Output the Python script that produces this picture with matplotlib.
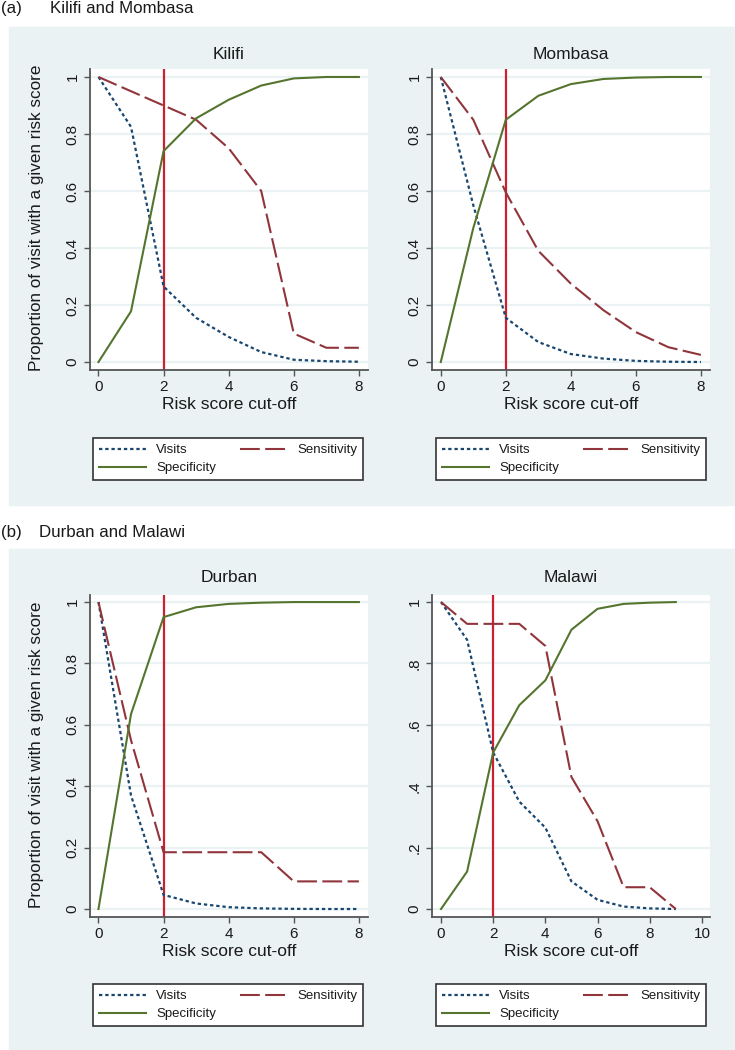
import numpy as np
import matplotlib
matplotlib.use('Agg')
import matplotlib.pyplot as plt
from matplotlib.patches import Rectangle

plt.rcParams['font.family'] = ['Liberation Sans', 'DejaVu Sans']

# risk score cut-offs
x8 = [0, 1, 2, 3, 4, 5, 6, 7, 8]
x9 = [0, 1, 2, 3, 4, 5, 6, 7, 8, 9]

# Kilifi
kil_visits = [1.0, 0.825, 0.265, 0.155, 0.088, 0.035, 0.008, 0.003, 0.001]
kil_sens = [1.0, 0.95, 0.90, 0.85, 0.75, 0.60, 0.10, 0.05, 0.05]
kil_spec = [0.0, 0.178, 0.74, 0.855, 0.92, 0.97, 0.995, 1.0, 1.0]
# Mombasa
mom_visits = [1.0, 0.55, 0.155, 0.07, 0.028, 0.012, 0.004, 0.001, 0.0]
mom_sens = [1.0, 0.85, 0.595, 0.39, 0.275, 0.182, 0.105, 0.052, 0.025]
mom_spec = [0.0, 0.47, 0.85, 0.934, 0.975, 0.993, 0.998, 1.0, 1.0]
# Durban
dur_visits = [1.0, 0.37, 0.046, 0.018, 0.006, 0.002, 0.0005, 0.0, 0.0]
dur_sens = [1.0, 0.55, 0.185, 0.185, 0.185, 0.185, 0.09, 0.09, 0.09]
dur_spec = [0.0, 0.635, 0.951, 0.983, 0.994, 0.998, 1.0, 1.0, 1.0]
# Malawi
mal_visits = [1.0, 0.877, 0.51, 0.35, 0.265, 0.09, 0.03, 0.008, 0.002, 0.0]
mal_sens = [1.0, 0.929, 0.929, 0.929, 0.857, 0.43, 0.286, 0.071, 0.071, 0.0]
mal_spec = [0.0, 0.122, 0.51, 0.664, 0.745, 0.91, 0.978, 0.994, 0.998, 1.0]

cutoff = 2
yticks = [0, 0.2, 0.4, 0.6, 0.8, 1]
ylab_std = ['0', '0.2', '0.4', '0.6', '0.8', '1']
ylab_mal = ['0', '.2', '.4', '.6', '.8', '1']

W, H = 735.0, 1050.0
bg = '#eaf2f4'
txt = '#1a1a1a'
c_vis = '#1a476f'
c_sen = '#90353b'
c_spe = '#55752f'
c_red = '#cc1f2f'


def px_axes(fig, left, top, right, bottom):
    return fig.add_axes([left / W, 1 - bottom / H, (right - left) / W, (bottom - top) / H])


def draw(fig, ax, x, visits, sens, spec, title, xlim, ylim, xticks, ylabels, legend_box, title_pad):
    ax.set_facecolor('white')
    ax.set_axisbelow(True)
    ax.yaxis.grid(True, color=bg, lw=1.6)
    ax.xaxis.grid(False)
    h1, = ax.plot(x, visits, color=c_vis, lw=1.6, ls=(0, (1.5, 1.3)))
    h2, = ax.plot(x, sens, color=c_sen, lw=1.5, ls=(0, (9.5, 2.6)))
    h3, = ax.plot(x, spec, color=c_spe, lw=1.5)
    ax.axvline(cutoff, color=c_red, lw=1.6, zorder=1.5)
    ax.set_xlim(xlim)
    ax.set_ylim(ylim)
    ax.set_xticks(xticks)
    ax.set_yticks(yticks)
    ax.set_yticklabels(ylabels, rotation=90, va='center')
    for s in ['top', 'right']:
        ax.spines[s].set_visible(False)
    for s in ['left', 'bottom']:
        ax.spines[s].set_color('#555555')
        ax.spines[s].set_linewidth(1.3)
    ax.tick_params(direction='out', length=4, width=1, color='#555555',
                   labelsize=11, labelcolor=txt)
    ax.set_title(title, fontsize=12.5, color=txt, pad=title_pad)
    ax.set_xlabel('Risk score cut-off', fontsize=12.5, color=txt, labelpad=2)
    lx0, ly0, lx1, ly1 = legend_box
    leg = ax.legend([h1, h3, h2], ['Visits', 'Specificity', 'Sensitivity'], ncol=2,
                    mode='expand', loc='upper left',
                    bbox_to_anchor=(lx0 / W, 1 - ly0 / H, (lx1 - lx0) / W, 0),
                    bbox_transform=fig.transFigure, fontsize=9.5,
                    handlelength=3.6, handletextpad=0.75, borderpad=0.45,
                    labelspacing=0.45, borderaxespad=0, fancybox=False,
                    framealpha=1, edgecolor='#333333')
    leg.get_frame().set_linewidth(1.2)
    for t in leg.get_texts():
        t.set_color(txt)


fig = plt.figure(figsize=(7.35, 10.5), dpi=100)

# panel backgrounds
fig.patches.append(Rectangle((9 / W, 1 - 505 / H), 726 / W, 478 / H,
                             transform=fig.transFigure, color=bg, zorder=-5))
fig.patches.append(Rectangle((9 / W, 0), 726 / W, 501 / H,
                             transform=fig.transFigure, color=bg, zorder=-5))

fig.text(1 / W, 1 - 13 / H, '(a)', fontsize=12.2, color=txt, va='baseline')
fig.text(50 / W, 1 - 13 / H, 'Kilifi and Mombasa', fontsize=12.2, color=txt, va='baseline')
fig.text(1 / W, 1 - 537 / H, '(b)', fontsize=12.2, color=txt, va='baseline')
fig.text(39 / W, 1 - 537 / H, 'Durban and Malawi', fontsize=12.2, color=txt, va='baseline')

ylim_a = (-0.028, 1.028)
ylim_b = (-0.026, 1.023)

ax1 = px_axes(fig, 90, 69, 368, 370)
draw(fig, ax1, x8, kil_visits, kil_sens, kil_spec, 'Kilifi', (-0.26, 8.28), ylim_a,
     [0, 2, 4, 6, 8], ylab_std, (93, 438, 363, 479), 7)
ax2 = px_axes(fig, 432, 69, 710, 370)
draw(fig, ax2, x8, mom_visits, mom_sens, mom_spec, 'Mombasa', (-0.27, 8.28), ylim_a,
     [0, 2, 4, 6, 8], ylab_std, (436, 438, 706, 479), 7)
ax3 = px_axes(fig, 90, 595, 368, 917)
draw(fig, ax3, x8, dur_visits, dur_sens, dur_spec, 'Durban', (-0.26, 8.28), ylim_b,
     [0, 2, 4, 6, 8], ylab_std, (93, 984, 363, 1027), 9)
ax4 = px_axes(fig, 432, 595, 710, 917)
draw(fig, ax4, x9, mal_visits, mal_sens, mal_spec, 'Malawi', (-0.345, 10.31), ylim_b,
     [0, 2, 4, 6, 8, 10], ylab_mal, (436, 984, 706, 1027), 9)

fig.text(37 / W, 1 - 218 / H, 'Proportion of visit with a given risk score', rotation=90,
         fontsize=12.3, color=txt, ha='center', va='center')
fig.text(37 / W, 1 - 755 / H, 'Proportion of visit with a given risk score', rotation=90,
         fontsize=12.3, color=txt, ha='center', va='center')

fig.savefig('out.png', dpi=100)
